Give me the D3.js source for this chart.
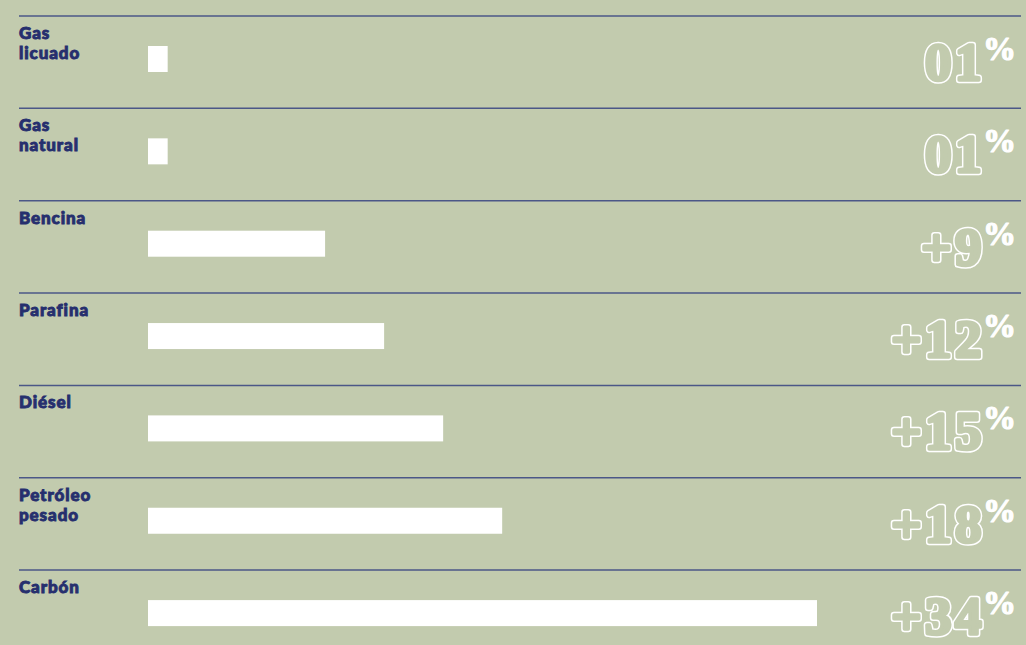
<!DOCTYPE html>
<html><head><meta charset="utf-8">
<script src="https://cdn.jsdelivr.net/npm/d3@7"></script>
<style>
html,body{margin:0;padding:0;background:#c2cbae;}
svg{display:block;}
</style></head>
<body>
<script>
const categories = [["Gas","licuado"],["Gas","natural"],["Bencina"],["Parafina"],["Diésel"],["Petróleo","pesado"],["Carbón"]];
const values = [1, 1, 9, 12, 15, 18, 34];
const valueLabels = ["01","01","+9","+12","+15","+18","+34"];

const W = 1026, H = 645, BG = "#c2cbae";
const svg = d3.select("body").append("svg").attr("width", W).attr("height", H);
svg.append("rect").attr("width", W).attr("height", H).attr("fill", BG);

const idx = d3.range(categories.length);
const y = d3.scaleBand().domain(idx).range([16, 16 + 92.35 * categories.length]).paddingInner(0).paddingOuter(0);
const x = d3.scaleLinear().domain([0, 34]).range([148, 817]);

const row = svg.selectAll("g.row").data(idx).join("g").attr("class","row")
  .attr("transform", i => `translate(0,${y(i)})`);

row.append("line").attr("x1", 19).attr("x2", 1021).attr("y1", 0).attr("y2", 0)
  .attr("stroke", "#4b5787").attr("stroke-width", 1.5);

row.append("text")
  .attr("font-family", "Lato, 'Noto Sans', sans-serif").attr("font-weight", 900)
  .attr("font-size", 17).attr("fill", "#262f6e").attr("stroke", "#262f6e")
  .attr("stroke-width", 0.9).attr("letter-spacing", 0.9)
  .selectAll("tspan").data(i => categories[i]).join("tspan")
  .attr("x", 19).attr("y", (d, j) => 23 + j * 20).text(d => d);

row.append("rect").attr("x", x(0)).attr("y", 30).attr("height", 26)
  .attr("width", i => x(values[i]) - x(0)).attr("fill", "#ffffff");

const vg = row.append("g").attr("transform", "translate(1016,64)");
function valueText(g, numStyle, pctStyle) {
  const t = g.append("text").attr("text-anchor", "end")
    .attr("font-family", "'Liberation Serif', serif").attr("font-weight", "bold")
    .attr("stroke-linejoin", "round");
  const a = t.append("tspan").attr("font-size", 53).attr("letter-spacing", 3.5).text(i => valueLabels[i]);
  const b = t.append("tspan").attr("font-size", 33).attr("dy", -20).attr("dx", -2).text("%");
  for (const [k, v] of Object.entries(numStyle)) a.attr(k, v);
  for (const [k, v] of Object.entries(pctStyle)) b.attr(k, v);
}
valueText(vg, {fill: "#ffffff", stroke: "#ffffff", "stroke-width": 6.6},
              {fill: "#ffffff", stroke: "#ffffff", "stroke-width": 1.2});
valueText(vg, {fill: BG, stroke: BG, "stroke-width": 3.6},
              {fill: "none", stroke: "none"});
</script>
</body></html>
